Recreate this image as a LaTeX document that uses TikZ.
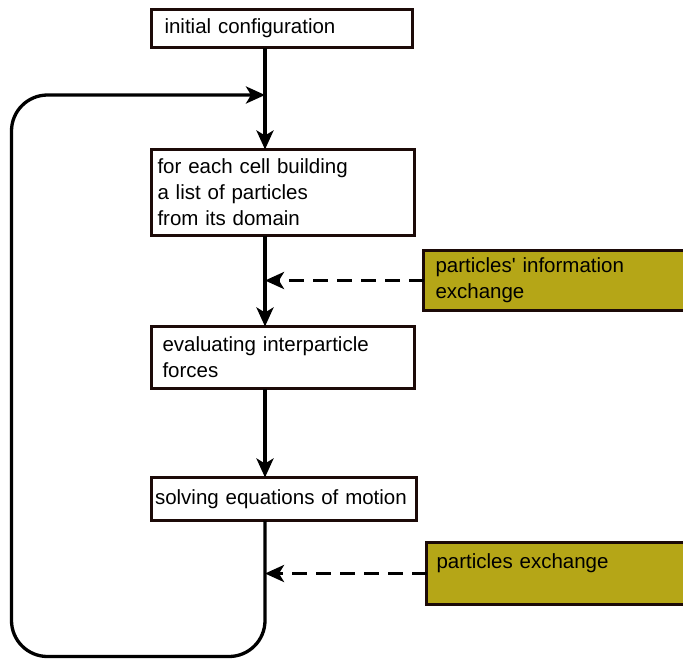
\documentclass[tikz,border=0pt]{standalone}
\usepackage{fontspec}
\setmainfont{Liberation Sans}
\usetikzlibrary{arrows.meta}

\begin{document}
\begin{tikzpicture}[x=1pt,y=-1pt,
        caja/.style={draw=borde,line width=3.2pt,fill=white,anchor=north west,
            inner ysep=0pt,outer sep=0pt,align=left,
            font=\fontsize{20.5}{26}\selectfont},
        info/.style={caja,fill=oliva},
        flecha/.style={line width=3.3pt,-{Stealth[length=19pt,width=17pt,inset=5pt]}},
        guion/.style={flecha,dash pattern=on 15pt off 9pt}]
        %colores
        \definecolor{borde}{RGB}{28,10,8}
        \definecolor{oliva}{RGB}{181,166,23}

        \useasboundingbox (0,0) rectangle (683,659);

        % cajas del ciclo
        \node[caja,inner xsep=13pt,text width=235pt,minimum height=38pt] (inicio) at (151.5,9.5) {initial configuration};
        \node[caja,inner xsep=6pt,text width=251pt,minimum height=86pt] (celdas) at (151.5,149.5) {for each cell building\\a list of particles\\from its domain};
        \node[caja,inner xsep=11pt,text width=241pt,minimum height=62pt] (fuerzas) at (151.5,326.5) {evaluating interparticle\\forces};
        \node[caja,inner xsep=3.5pt,text width=258pt,minimum height=43pt] (movimiento) at (151.5,477.5) {solving equations of motion};

        % intercambios
        \node[info,inner xsep=12pt,text width=246pt,minimum height=60pt] (datos) at (423.5,250.5) {particles\textquotesingle{} information\\exchange};
        \node[info,inner xsep=10pt,text width=250pt,text height=15pt,text depth=26pt,minimum height=62pt] (cambio) at (426.5,542.5) {particles exchange};

        % eje y lazo
        \coordinate (lazo) at (265,95);
        \coordinate (esq) at (11.5,656.5);
        \draw[flecha] (inicio.south -| lazo) -- (celdas.north -| lazo);
        \draw[flecha] (celdas.south -| lazo) -- (fuerzas.north -| lazo);
        \draw[flecha] (fuerzas.south -| lazo) -- (movimiento.north -| lazo);
        \draw[flecha,rounded corners=36pt] (movimiento.south -| lazo) |- (esq) |- (lazo);

        % flechas punteadas
        \draw[guion] (datos.west) -- (datos.west -| lazo);
        \draw[guion] (cambio.west) -- (cambio.west -| lazo);
    \end{tikzpicture}
\end{document}
